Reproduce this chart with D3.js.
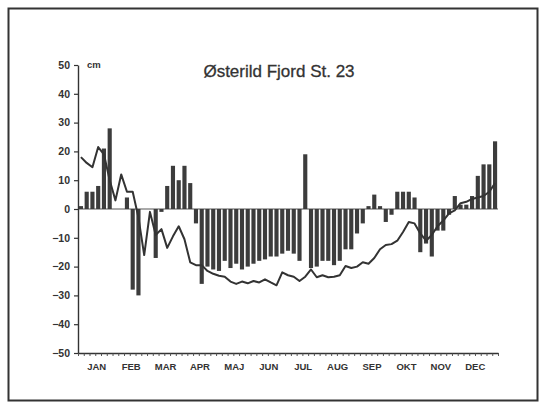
<!DOCTYPE html>
<html>
<head>
<meta charset="utf-8">
<script src="https://cdn.jsdelivr.net/npm/d3@7/dist/d3.min.js"></script>
<style>
  html, body { margin: 0; padding: 0; background: #fff; }
  svg { display: block; }
  text { font-family: "Liberation Sans", Arial, sans-serif; fill: #333; }
</style>
</head>
<body>
<svg id="chart" width="542" height="412"></svg>
<script>
// ---- data ----
const title = "Østerild Fjord St. 23";
const unitLabel = "cm";
const months = ["JAN","FEB","MAR","APR","MAJ","JUN","JUL","AUG","SEP","OKT","NOV","DEC"];
const yTicks = [50, 40, 30, 20, 10, 0, -10, -20, -30, -40, -50];
// 73 five-day periods (pentads): bar values
const barValues = [
  1, 6, 6, 8, 21, 28, 0, 0, 4, -28,
  -30, 0, 0, -17, -1, 8, 15, 10, 15, 9,
  -5, -26, -20, -21, -21.5, -18, -20.5, -19, -21, -20,
  -19, -18, -17.5, -16.5, -16.5, -15.5, -14.5, -15.5, -18, 19,
  -20.5, -20, -18, -18, -19.5, -18, -14, -14, -8.5, -5,
  1, 5, 1, -4.5, -2, 6, 6, 6, 4, -15,
  -12, -16.5, -7.5, -7.5, -2, 4.5, 1.5, 1.5, 4.5, 11.5,
  15.5, 15.5, 23.5
];
// line series per pentad
const lineValues = [
  18, 16, 14.5, 21.5, 19, 10, 3, 12, 6, 6,
  -3, -16, -1, -9, -7, -13.5, -9.5, -6, -10.5, -18.5,
  -19.5, -19.5, -21.5, -22.5, -23.2, -23.5, -25.2, -26, -25.2, -25.8,
  -25, -25.5, -24.4, -25.5, -26.5, -22, -23, -23.5, -25, -23.5,
  -21, -23.7, -23, -23.7, -23.5, -23, -19.8, -20.5, -20, -18.5,
  -19, -17, -14, -12.5, -12.2, -11, -8, -4.5, -5, -8.5,
  -11, -9, -6, -4, -1.5, -0.5, 2, 2.5, 3.5, 4,
  4.5, 6, 9
];

// ---- layout ----
const svg = d3.select("#chart");
const X0 = 78, X1 = 498, Y0 = 353, Y1 = 65;

// frame
svg.append("rect")
  .attr("x", 8.5).attr("y", 8.5).attr("width", 529).attr("height", 392)
  .attr("fill", "#fff").attr("stroke", "#333").attr("stroke-width", 2);

const idx = d3.range(barValues.length);
const x = d3.scaleBand().domain(idx).range([X0, X1]).paddingInner(0.28).paddingOuter(0.15);
const xTickScale = d3.scaleLinear().domain([0, barValues.length]).range([X0, X1]);
const y = d3.scaleLinear().domain([-50, 50]).range([Y0, Y1]);
const xm = d3.scaleBand().domain(months).range([79.5, 492.5]);

// zero line
svg.append("line")
  .attr("x1", X0).attr("x2", X1)
  .attr("y1", y(0)).attr("y2", y(0))
  .attr("stroke", "#555").attr("stroke-width", 1);

// bars
svg.append("g").selectAll("rect")
  .data(idx)
  .join("rect")
  .attr("x", i => x(i))
  .attr("width", x.bandwidth())
  .attr("y", i => y(Math.max(0, barValues[i])))
  .attr("height", i => Math.abs(y(barValues[i]) - y(0)))
  .attr("fill", "#3c3c3c");

// line
const line = d3.line()
  .x((d, i) => x(i) + x.bandwidth() / 2)
  .y(d => y(d));
svg.append("path")
  .datum(lineValues)
  .attr("d", line)
  .attr("fill", "none")
  .attr("stroke", "#333")
  .attr("stroke-width", 2)
  .attr("stroke-linejoin", "round");

// y axis
const yAxis = svg.append("g")
  .attr("transform", `translate(${X0},0)`)
  .call(d3.axisLeft(y).tickValues(yTicks).tickSize(4).tickSizeOuter(0).tickPadding(4));
yAxis.select(".domain").attr("stroke", "#333").attr("stroke-width", 1.4);
yAxis.selectAll(".tick line").attr("stroke", "#333").attr("stroke-width", 1.2);
yAxis.selectAll(".tick text")
  .attr("font-family", "Liberation Sans, Arial, sans-serif")
  .attr("font-size", 10.5).attr("font-weight", "bold").attr("fill", "#333");

// x axis with pentad ticks
const xAxis = svg.append("g")
  .attr("transform", `translate(0,${Y0})`)
  .call(d3.axisBottom(xTickScale).tickValues(d3.range(barValues.length + 1))
    .tickFormat("").tickSize(3).tickSizeOuter(0));
xAxis.select(".domain").attr("stroke", "#333").attr("stroke-width", 1.4);
xAxis.selectAll(".tick line").attr("stroke", "#444").attr("stroke-width", 0.9);

// month labels
svg.append("g").selectAll("text")
  .data(months)
  .join("text")
  .attr("x", d => xm(d) + xm.bandwidth() / 2)
  .attr("y", 370)
  .attr("text-anchor", "middle")
  .attr("font-size", 9.5)
  .attr("font-weight", "bold")
  .text(d => d);

// unit
svg.append("text")
  .attr("x", 87).attr("y", 68)
  .attr("font-size", 9.5).attr("font-weight", "bold")
  .text(unitLabel);

// title
svg.append("text")
  .attr("x", 279).attr("y", 77)
  .attr("text-anchor", "middle")
  .attr("font-size", 17)
  .attr("stroke", "#333").attr("stroke-width", 0.3)
  .text(title);
</script>
</body>
</html>
